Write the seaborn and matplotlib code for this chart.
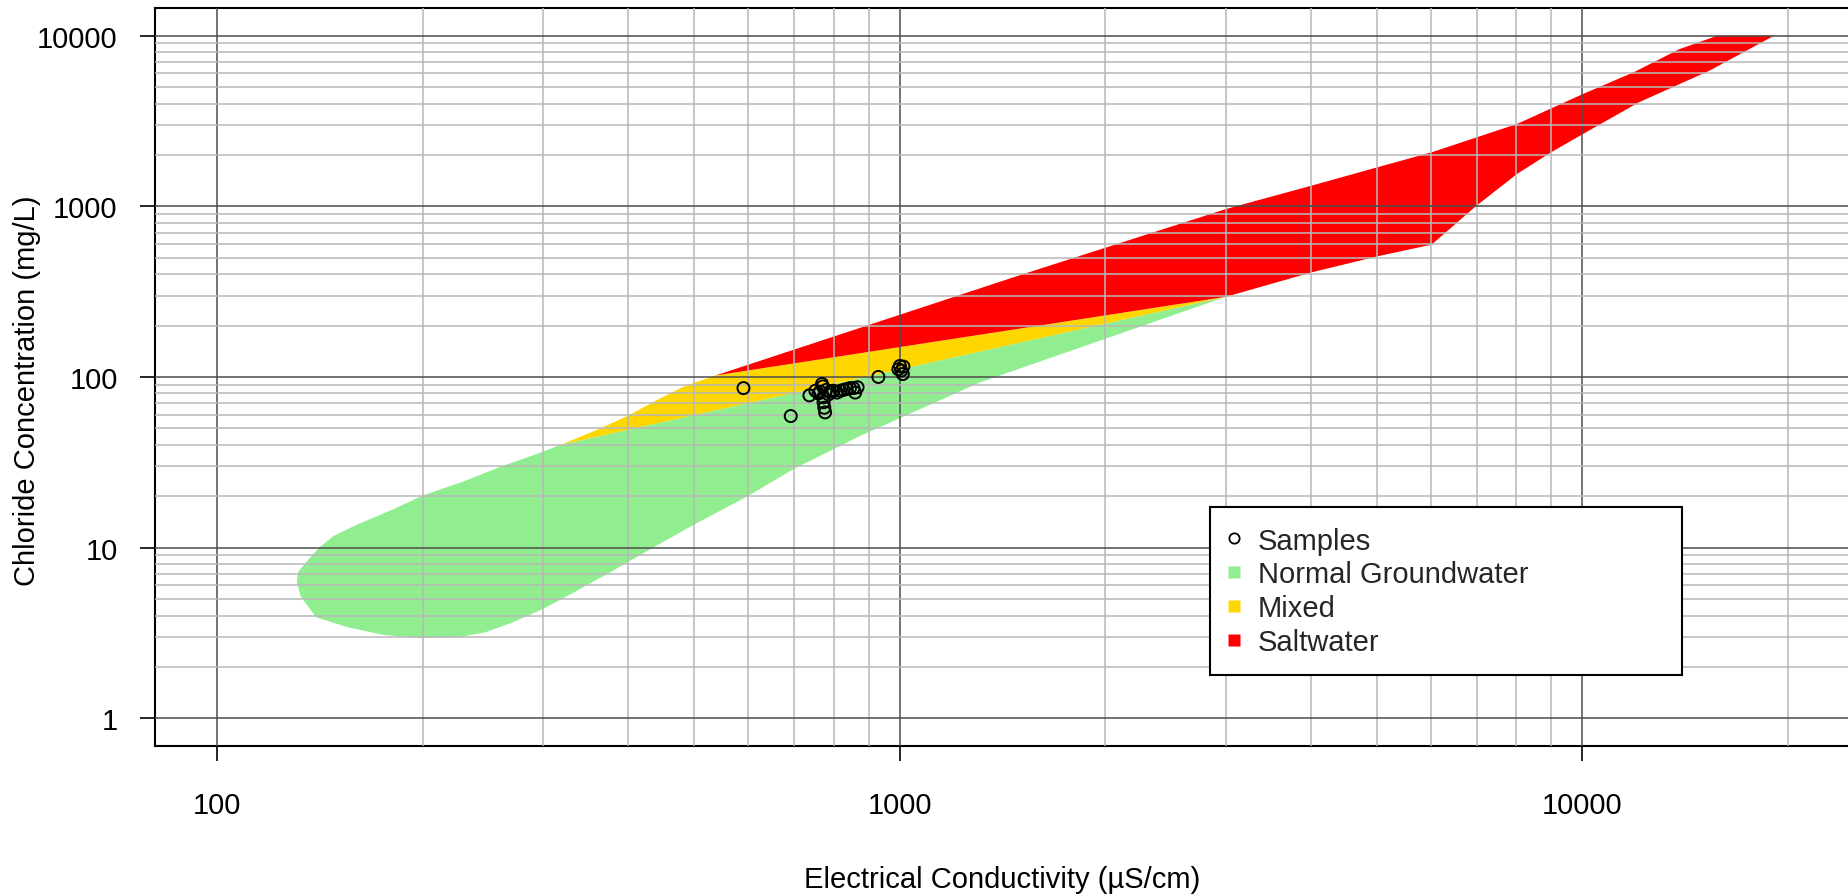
import numpy as np
import matplotlib
matplotlib.use("Agg")
import matplotlib.pyplot as plt
from matplotlib.lines import Line2D
from matplotlib.ticker import FixedLocator, FixedFormatter, NullFormatter
import seaborn as sns

# sample measurements (EC in uS/cm, chloride in mg/L)
ec_samples = [590, 692, 737, 752, 760, 764, 769, 771, 773, 775, 777, 772, 780, 786,
              790, 799, 809, 818, 827, 836, 845, 855, 860, 867, 930, 995, 1000, 1005,
              1010, 1012]
cl_samples = [86, 59, 78, 83, 80, 82, 91, 88, 71, 66, 62, 76, 84, 79,
              82, 83, 81, 83, 84, 85, 86, 86, 81, 87, 100, 111, 116, 109,
              104, 115]

# zone outlines
normal_ec = [131.3, 133.5, 137, 141, 148, 160, 180, 200, 230, 259, 287, 319, 3006,
             1311, 876, 699, 601, 502, 431, 377, 334, 301, 271, 247, 226,
             200, 175, 155, 139.5, 132.4, 130.8]
normal_cl = [7.2, 7.8, 8.8, 10.0, 11.7, 13.6, 16.6, 20.2, 24.5, 29.6, 34.2, 40.1, 295,
             93, 45.3, 28.9, 20.2, 13.8, 9.8, 7.2, 5.5, 4.4, 3.65, 3.19, 2.99,
             2.95, 3.08, 3.42, 3.91, 5.2, 6.3]

mixed_ec = [319, 360, 400, 440, 480, 510, 537, 3006, 319]
mixed_cl = [40.1, 49, 59.3, 73, 87, 95, 102, 295, 40.1]

salt_ec = [537, 1500, 3006, 4010, 5008, 6012, 8020, 10020, 11890, 13870, 15780,
           19100, 15350, 12100, 10020, 8995, 8020, 6996, 6012, 5008, 4010, 3006]
salt_cl = [102, 395, 964, 1321, 1692, 2071, 3036, 4550, 6100, 8330, 10000,
           10000, 6230, 4066, 2652, 2071, 1546, 1008, 596, 509, 410, 295]

zone_names = ["Normal Groundwater", "Mixed", "Saltwater"]
zone_colors = ["#90EE90", "#FFD700", "#FF0000"]

x_ticks = [100, 1000, 10000]
y_ticks = [1, 10, 100, 1000, 10000]
x_range = (100, 20000)
y_range = (1, 10000)

sns.set_theme(style="ticks")
plt.rcParams["font.family"] = ["Liberation Sans", "DejaVu Sans"]

fig = plt.figure(figsize=(18.49, 8.95), dpi=100)
ax = fig.add_axes([0.08356, 0.16581, 0.91736, 0.82380])
ax.set_xscale("log")
ax.set_yscale("log")


# R-like 4% padding on log axes
def padded(lo, hi):
    a, b = np.log10(lo), np.log10(hi)
    d = 0.04 * (b - a)
    return 10 ** (a - d), 10 ** (b + d)


ax.set_xlim(*padded(*x_range))
ax.set_ylim(*padded(*y_range))

zones = [(normal_ec, normal_cl), (mixed_ec, mixed_cl), (salt_ec, salt_cl)]
for (ex, cy), col in zip(zones, zone_colors):
    ax.fill(ex, cy, color=col, lw=0, zorder=1)

sns.scatterplot(x=ec_samples, y=cl_samples, ax=ax, marker="o", s=75,
                facecolor="none", edgecolor="black", linewidth=1.4,
                legend=False, zorder=4)

# ticks and grid
minor_x = [m * d for d in (100, 1000, 10000) for m in range(2, 10) if m * d <= x_range[1]]
minor_y = [m * d for d in (1, 10, 100, 1000) for m in range(2, 10)]
ax.xaxis.set_major_locator(FixedLocator(x_ticks))
ax.xaxis.set_major_formatter(FixedFormatter([str(v) for v in x_ticks]))
ax.xaxis.set_minor_locator(FixedLocator(minor_x))
ax.xaxis.set_minor_formatter(NullFormatter())
ax.yaxis.set_major_locator(FixedLocator(y_ticks))
ax.yaxis.set_major_formatter(FixedFormatter([str(v) for v in y_ticks]))
ax.yaxis.set_minor_locator(FixedLocator(minor_y))
ax.yaxis.set_minor_formatter(NullFormatter())

ax.grid(which="major", color="#4d4d4d", linewidth=1.1)
ax.grid(which="minor", color="#b8b8b8", linewidth=1.1)
ax.set_axisbelow(False)
ax.tick_params(which="minor", length=0)
ax.tick_params(which="major", length=10.5, width=1.2, color="black",
               direction="out", labelsize=21, labelcolor="black")
ax.tick_params(axis="x", pad=22)
ax.tick_params(axis="y", pad=16)

for side in ["left", "bottom", "top"]:
    ax.spines[side].set_color("black")
    ax.spines[side].set_linewidth(1.5)
ax.spines["right"].set_visible(False)

ax.set_xlabel("Electrical Conductivity (µS/cm)", fontsize=21, color="black")
ax.xaxis.set_label_coords(0.5, -0.181)
ax.xaxis.label.set_va("center")
ax.set_ylabel("Chloride Concentration (mg/L)", fontsize=21, color="black")
ax.yaxis.set_label_coords(-0.0752, 0.483)
ax.yaxis.label.set_va("center")

handles = [Line2D([], [], marker="o", ls="none", mfc="none", mec="black", mew=1.3, ms=7.4)]
handles += [Line2D([], [], marker="s", ls="none", mfc=c, mec="none", ms=8.6) for c in zone_colors]
leg = ax.legend(handles, ["Samples"] + zone_names, loc="upper left",
                bbox_to_anchor=(0.6223, 0.1002, 0.2785, 0.2230), mode="expand",
                fontsize=21, frameon=True, fancybox=False, framealpha=1,
                edgecolor="black", borderpad=0.66, labelspacing=0.2,
                handlelength=0.3, handletextpad=0.68, borderaxespad=0)
leg.get_frame().set_linewidth(1.5)
leg.set_zorder(6)

fig.savefig("out.png", dpi=100)
